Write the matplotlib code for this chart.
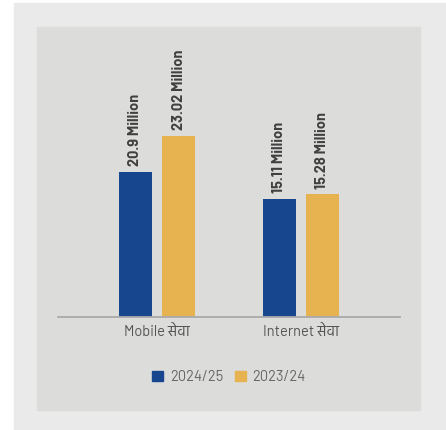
import matplotlib
matplotlib.use("Agg")
import numpy as np
import matplotlib.pyplot as plt
from matplotlib.patches import Rectangle, Patch

categories = ["Mobile सेवा", "Internet सेवा"]
series_names = ["2024/25", "2023/24"]
# bar heights as drawn in the picture (million)
heights_2425 = [18.4, 15.0]
heights_2324 = [23.02, 15.6]
# value labels printed above the bars
labels_2425 = ["20.9 Million", "15.11 Million"]
labels_2324 = ["23.02 Million", "15.28 Million"]

blue = "#17468f"
yellow = "#e7b250"
latin = ["Barlow", "Hind", "Noto Sans", "DejaVu Sans"]

W, H = 446, 430
fig = plt.figure(figsize=(W / 100, H / 100), dpi=100)
fig.patch.set_facecolor("white")

# outer light frame and inner panel
fig.patches.append(Rectangle((14 / W, 0), (W - 14) / W, (H - 3) / H,
                             transform=fig.transFigure, color="#eaeaea", zorder=-2))
fig.patches.append(Rectangle((37 / W, (H - 410) / H), (420 - 37) / W, (410 - 27) / H,
                             transform=fig.transFigure, color="#dcdcda", zorder=-1))

# axes: baseline at y=317px, spans x 58..400px
ax_bottom = (H - 317) / H
ax_top = (H - 120) / H
ax = fig.add_axes([58 / W, ax_bottom, (400 - 58) / W, ax_top - ax_bottom])
ax.set_facecolor("none")

x = np.arange(len(categories))
off = 0.15
bw = 0.23
b1 = ax.bar(x - off, heights_2425, bw, color=blue, label=series_names[0], zorder=2)
b2 = ax.bar(x + off, heights_2324, bw, color=yellow, label=series_names[1], zorder=2)

for bars, labs in ((b1, labels_2425), (b2, labels_2324)):
    for r, t in zip(bars, labs):
        ax.annotate(t, (r.get_x() + r.get_width() / 2, r.get_height()),
                    xytext=(0, 4), textcoords="offset points", rotation=90,
                    ha="center", va="bottom", fontsize=10.5, fontweight="bold",
                    color="#404040", family=latin, annotation_clip=False)

ax.set_xlim(-0.69, 1.693)
ax.set_ylim(0, 25)
ax.set_xticks(x)
ax.set_xticklabels(categories, family=latin, fontsize=10.5, color="#555555")
ax.tick_params(axis="x", length=0, pad=6)
ax.set_yticks([])
for s in ["top", "right", "left"]:
    ax.spines[s].set_visible(False)
ax.spines["bottom"].set_color("#aaaaaa")
ax.spines["bottom"].set_linewidth(1.3)

handles = [Patch(color=blue), Patch(color=yellow)]
fig.legend(handles, series_names, loc="center", bbox_to_anchor=(229 / W, (H - 377) / H),
           ncol=2, frameon=False, handlelength=0.75, handleheight=0.75,
           handletextpad=0.45, columnspacing=0.8,
           prop={"family": latin, "size": 10.5}, labelcolor="#666666")

fig.savefig("out.png", dpi=100)
